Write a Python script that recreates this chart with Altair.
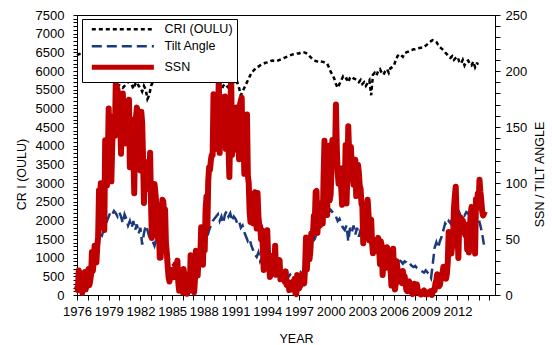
import altair as alt
import pandas as pd

SERIES = ["CRI (OULU)", "Tilt Angle", "SSN"]
COLORS = ["#000000", "#1b3a7c", "#c00000"]
DASHES = [[4, 3], [10, 5], [1, 0]]
THIN = 2.5
THICK = 6
LEGEND_THICK = 5

# Oulu neutron monitor count rate, two-monthly (Jan, Mar, May, Jul, Sep, Nov), 1976 .. Jan 2014
cri_values = [
    6420, 6450, 6460, 6470, 6480, 6470,   # 1976
    6450, 6430, 6400, 6380, 6350, 6300,   # 1977
    6200, 6150, 6050, 6000, 5900, 5850,   # 1978
    5800, 5820, 5750, 5700, 5650, 5600,   # 1979
    5620, 5580, 5550, 5600, 5650, 5700,   # 1980
    5720, 5650, 5520, 5650, 5700, 5600,   # 1981
    5550, 5450, 5600, 5500, 5250, 5350,   # 1982
    5600, 5700, 5750, 5800, 5850, 5900,   # 1983
    5850, 5900, 5950, 6000, 6050, 6100,   # 1984
    6150, 6200, 6250, 6280, 6300, 6320,   # 1985
    6350, 6380, 6400, 6420, 6400, 6420,   # 1986
    6430, 6400, 6380, 6350, 6300, 6250,   # 1987
    6200, 6150, 6100, 6000, 5950, 5900,   # 1988
    5850, 5800, 5700, 5650, 5500, 5600,   # 1989
    5650, 5600, 5550, 5620, 5680, 5700,   # 1990
    5650, 5700, 5550, 5350, 5450, 5550,   # 1991
    5650, 5750, 5850, 5950, 6000, 6050,   # 1992
    6100, 6120, 6150, 6180, 6200, 6220,   # 1993
    6230, 6250, 6270, 6280, 6270, 6260,   # 1994
    6280, 6300, 6320, 6340, 6360, 6380,   # 1995
    6400, 6420, 6440, 6450, 6460, 6470,   # 1996
    6470, 6490, 6510, 6500, 6480, 6450,   # 1997
    6400, 6350, 6300, 6280, 6260, 6250,   # 1998
    6270, 6250, 6240, 6220, 6200, 6100,   # 1999
    5980, 5900, 5800, 5650, 5550, 5650,   # 2000
    5750, 5850, 5780, 5800, 5700, 5820,   # 2001
    5850, 5800, 5780, 5750, 5700, 5760,   # 2002
    5650, 5700, 5600, 5680, 5750, 5350,   # 2003
    5900, 5950, 5880, 6000, 6050, 5950,   # 2004
    5900, 6000, 6050, 5950, 6080, 6100,   # 2005
    6150, 6300, 6400, 6450, 6420, 6380,   # 2006
    6480, 6500, 6520, 6550, 6560, 6580,   # 2007
    6580, 6600, 6610, 6620, 6620, 6640,   # 2008
    6680, 6720, 6760, 6800, 6830, 6820,   # 2009
    6780, 6700, 6640, 6600, 6560, 6500,   # 2010
    6450, 6380, 6350, 6400, 6300, 6350,   # 2011
    6380, 6250, 6200, 6300, 6150, 6250,   # 2012
    6280, 6200, 6150, 6250, 6100, 6200,   # 2013
    6190,                                 # 2014
]

# Heliospheric current sheet tilt angle (degrees), two-monthly, 1976 .. Jul 2014
tilt_values = [
    12, 10, 14, 15, 18, 20,   # 1976
    18, 25, 30, 35, 38, 42,   # 1977
    45, 50, 52, 58, 62, 66,   # 1978
    70, 74, 72, 75, 73, 70,   # 1979
    74, 70, 64, 72, 68, 62,   # 1980
    66, 60, 66, 58, 63, 55,   # 1981
    60, 45, 55, 62, 58, 52,   # 1982
    50, 48, 44, 50, 46, 42,   # 1983
    44, 40, 38, 35, 33, 30,   # 1984
    28, 26, 24, 22, 20, 18,   # 1985
    16, 14, 12, 12, 14, 16,   # 1986
    18, 22, 28, 32, 36, 40,   # 1987
    42, 48, 52, 58, 62, 66,   # 1988
    68, 70, 72, 66, 70, 64,   # 1989
    72, 75, 70, 73, 66, 70,   # 1990
    68, 64, 66, 60, 62, 56,   # 1991
    52, 48, 50, 44, 40, 36,   # 1992
    34, 38, 30, 33, 30, 28,   # 1993
    31, 28, 26, 29, 26, 24,   # 1994
    24, 22, 20, 22, 20, 18,   # 1995
    16, 18, 15, 14, 16, 12,   # 1996
    14, 20, 18, 24, 22, 30,   # 1997
    36, 40, 48, 50, 55, 58,   # 1998
    60, 64, 66, 70, 72, 74,   # 1999
    76, 74, 72, 70, 66, 68,   # 2000
    64, 60, 58, 62, 48, 60,   # 2001
    56, 62, 54, 60, 52, 58,   # 2002
    58, 52, 56, 50, 54, 48,   # 2003
    50, 46, 48, 44, 42, 40,   # 2004
    40, 38, 36, 38, 34, 32,   # 2005
    34, 32, 33, 31, 30, 28,   # 2006
    30, 29, 27, 28, 26, 25,   # 2007
    26, 24, 23, 22, 21, 20,   # 2008
    22, 20, 18, 15, 28, 42,   # 2009
    47, 42, 48, 52, 58, 64,   # 2010
    62, 66, 64, 68, 70, 72,   # 2011
    72, 74, 70, 73, 71, 74,   # 2012
    73, 70, 72, 68, 72, 70,   # 2013
    68, 62, 55, 45,           # 2014
]

# Monthly sunspot number, Jan 1976 .. Aug 2014
ssn_values = [
    8.1, 4.3, 21.9, 18.8, 12.4, 12.2, 1.9, 16.4, 13.5, 20.6, 5.2, 15.3,              # 1976
    16.4, 23.1, 8.7, 12.9, 18.6, 38.5, 21.4, 30.1, 44.0, 43.8, 29.1, 43.2,           # 1977
    51.9, 93.6, 76.5, 99.7, 82.7, 95.1, 70.4, 58.1, 138.2, 125.1, 97.9, 122.7,       # 1978
    166.6, 137.5, 138.0, 101.5, 134.4, 149.5, 159.4, 142.2, 188.4, 186.2, 183.3, 176.3,  # 1979
    159.6, 155.0, 126.2, 164.1, 179.9, 157.3, 136.3, 135.4, 155.0, 164.7, 147.9, 174.4,  # 1980
    114.0, 141.3, 135.5, 156.4, 127.5, 90.9, 143.8, 158.7, 167.3, 162.4, 137.5, 150.1,   # 1981
    111.2, 163.6, 153.8, 122.0, 82.2, 110.4, 106.1, 107.6, 118.8, 94.7, 98.1, 127.0,     # 1982
    84.3, 51.0, 66.5, 80.7, 99.2, 91.1, 82.2, 71.8, 50.3, 55.8, 33.3, 33.4,          # 1983
    57.0, 85.1, 83.5, 69.4, 76.4, 46.1, 37.4, 25.5, 15.7, 12.0, 22.8, 18.7,          # 1984
    16.5, 15.9, 17.2, 16.2, 27.5, 24.2, 30.7, 11.1, 3.9, 18.6, 16.2, 17.3,           # 1985
    2.5, 23.2, 15.1, 18.5, 13.7, 1.1, 18.1, 7.4, 3.8, 35.4, 15.2, 6.8,               # 1986
    10.4, 2.4, 14.7, 39.6, 33.0, 17.4, 33.0, 38.7, 33.9, 60.6, 39.9, 27.1,           # 1987
    59.0, 40.0, 76.2, 88.0, 60.1, 101.8, 113.8, 111.6, 120.1, 125.1, 125.1, 179.2,   # 1988
    161.3, 165.1, 131.4, 130.5, 138.5, 196.2, 126.9, 168.9, 176.7, 159.4, 173.0, 165.5,  # 1989
    177.3, 130.5, 140.3, 140.3, 132.2, 105.4, 149.4, 200.3, 125.2, 145.5, 131.4, 129.7,  # 1990
    136.9, 167.5, 141.9, 140.0, 121.3, 169.7, 173.7, 176.3, 125.3, 144.1, 108.2, 144.4,  # 1991
    150.0, 161.1, 106.7, 99.8, 73.8, 65.2, 85.7, 64.5, 63.9, 88.7, 91.8, 82.6,       # 1992
    59.3, 91.0, 69.8, 62.2, 61.3, 49.8, 57.9, 42.2, 22.4, 56.4, 35.6, 48.9,          # 1993
    57.8, 35.5, 31.7, 16.1, 17.8, 28.0, 35.1, 22.5, 25.7, 44.0, 18.0, 26.2,          # 1994
    24.2, 29.9, 31.1, 14.0, 14.5, 15.6, 14.5, 14.3, 11.8, 21.1, 9.0, 10.0,           # 1995
    11.5, 4.4, 9.2, 4.8, 5.5, 11.8, 8.2, 14.4, 1.6, 0.9, 17.9, 13.3,                 # 1996
    5.7, 7.6, 8.7, 15.5, 18.5, 12.7, 10.4, 24.4, 51.3, 22.8, 39.0, 41.2,             # 1997
    31.9, 40.3, 54.8, 53.4, 56.3, 70.7, 66.6, 92.2, 92.9, 55.5, 74.0, 81.9,          # 1998
    62.0, 66.3, 68.8, 63.7, 106.4, 137.7, 113.5, 93.7, 71.5, 116.7, 133.2, 84.6,     # 1999
    90.1, 112.9, 138.5, 125.5, 121.6, 124.9, 170.1, 130.5, 109.7, 99.4, 106.8, 104.4,    # 2000
    95.6, 80.6, 113.5, 107.7, 96.6, 134.0, 81.8, 106.4, 150.7, 125.5, 106.5, 132.2,  # 2001
    114.1, 107.4, 98.4, 120.7, 120.8, 88.3, 99.6, 116.4, 109.6, 97.5, 95.0, 81.6,    # 2002
    79.5, 46.2, 61.5, 60.0, 55.2, 77.4, 85.0, 72.7, 48.8, 65.6, 67.2, 47.0,          # 2003
    37.2, 46.0, 48.9, 39.3, 41.5, 43.2, 51.0, 40.9, 27.7, 48.0, 43.5, 17.9,          # 2004
    31.3, 29.2, 24.5, 24.4, 42.6, 39.6, 39.9, 36.4, 22.1, 8.5, 18.0, 41.2,           # 2005
    15.3, 4.9, 10.6, 30.2, 22.3, 13.9, 12.2, 12.9, 14.4, 10.5, 21.4, 13.6,           # 2006
    16.8, 10.7, 4.5, 3.4, 11.7, 12.1, 9.7, 6.0, 2.4, 0.9, 1.7, 10.1,                 # 2007
    3.3, 2.1, 9.3, 2.9, 2.9, 3.1, 0.5, 0.5, 1.1, 2.9, 4.1, 0.8,                      # 2008
    1.5, 1.4, 0.7, 1.2, 2.9, 2.6, 3.5, 0.0, 4.4, 4.6, 4.2, 10.6,                     # 2009
    13.1, 18.6, 15.4, 7.9, 8.8, 13.5, 16.1, 19.6, 25.2, 23.5, 21.6, 14.5,            # 2010
    19.0, 29.4, 56.2, 54.4, 41.6, 37.0, 43.9, 50.6, 78.0, 88.0, 96.7, 73.0,          # 2011
    58.3, 33.1, 64.2, 55.2, 69.0, 64.5, 66.5, 63.0, 61.4, 53.3, 61.8, 40.8,          # 2012
    62.9, 38.0, 57.9, 72.4, 78.7, 52.5, 57.0, 66.0, 37.0, 85.6, 77.6, 90.3,          # 2013
    82.0, 102.8, 92.2, 84.7, 75.2, 71.0, 72.4, 74.6,                                 # 2014
]

START_YEAR = 1976
X_MAX = 2015.55
year_ticks = list(range(1976, 2016))
cri_ticks = list(range(0, 7501, 100))
right_ticks = list(range(0, 251, 10))

FONT = "Liberation Sans"


def frame(values, per_year, name):
    return pd.DataFrame({
        "t": [START_YEAR + i / per_year for i in range(len(values))],
        "value": values,
        "series": name,
    })


cri_df = frame(cri_values, 6, SERIES[0])
tilt_df = frame(tilt_values, 6, SERIES[1])
ssn_df = frame(ssn_values, 12, SERIES[2])

legend = alt.Legend(
    title=None, orient="none", legendX=5, legendY=4,
    symbolType="M-0.1,0H13.7", symbolSize=81, labelOffset=66,
    symbolStrokeWidth={"expr": f"datum.value == '{SERIES[2]}' ? {LEGEND_THICK} : {THIN}"},
    padding=4, rowPadding=4,
    strokeColor="black", fillColor="white",
    labelFont=FONT, labelFontSize=12.5, labelColor="black",
)

x_enc = alt.X(
    "t:Q",
    scale=alt.Scale(domain=[START_YEAR, X_MAX], nice=False, zero=False),
    axis=alt.Axis(
        title="YEAR", values=year_ticks, format="d",
        labelExpr="((datum.value - 1976) % 3 == 0 && datum.value <= 2012) ? datum.label : ''",
        labelOverlap=False, labelFlush=False, tickSize=5, labelPadding=5,
        titleX=219, titleY=37, titleBaseline="top",
    ),
)

series_enc = dict(
    color=alt.Color("series:N", scale=alt.Scale(domain=SERIES, range=COLORS), legend=legend),
    strokeDash=alt.StrokeDash("series:N", scale=alt.Scale(domain=SERIES, range=DASHES), legend=legend),
)

cri_line = alt.Chart(cri_df).mark_line(strokeWidth=THIN).encode(
    x=x_enc,
    y=alt.Y(
        "value:Q",
        scale=alt.Scale(domain=[0, 7500], nice=False),
        axis=alt.Axis(
            title="CR I (OULU)", orient="left", values=cri_ticks, format="d",
            labelExpr="datum.value % 500 == 0 ? datum.label : ''",
            labelOverlap=False, labelFlush=False, tickSize=4, labelPadding=9,
            titleX=-49, titleY=159,
        ),
    ),
    **series_enc,
)

right_y = alt.Y(
    "value:Q",
    scale=alt.Scale(domain=[0, 250], nice=False),
    axis=alt.Axis(
        title="SSN / TILT ANGLE", orient="right", values=right_ticks, format="d",
        labelExpr="datum.value % 50 == 0 ? datum.label : ''",
        labelOverlap=False, labelFlush=False, tickSize=5, labelPadding=5,
        titleAngle=270, titleBaseline="bottom", titleX=51, titleY=159,
    ),
)

tilt_line = alt.Chart(tilt_df).mark_line(strokeWidth=THIN).encode(x=x_enc, y=right_y, **series_enc)
ssn_line = alt.Chart(ssn_df).mark_line(strokeWidth=THICK, strokeJoin="round").encode(
    x=x_enc, y=right_y, **series_enc
)

chart = (
    alt.layer(cri_line, alt.layer(tilt_line, ssn_line))
    .resolve_scale(y="independent")
    .properties(
        width=418, height=280,
        autosize=alt.AutoSizeParams(type="none"),
        padding={"left": 77, "top": 15, "right": 57, "bottom": 50},
    )
    .configure_view(stroke="black", strokeWidth=1)
    .configure_axis(
        grid=False, domainColor="black", tickColor="black",
        labelFont=FONT, labelFontSize=13, labelColor="black",
        titleFont=FONT, titleFontSize=12.5, titleFontWeight="normal", titleColor="black",
    )
)

chart.save("out.html", embed_options={"renderer": "svg", "actions": False})
